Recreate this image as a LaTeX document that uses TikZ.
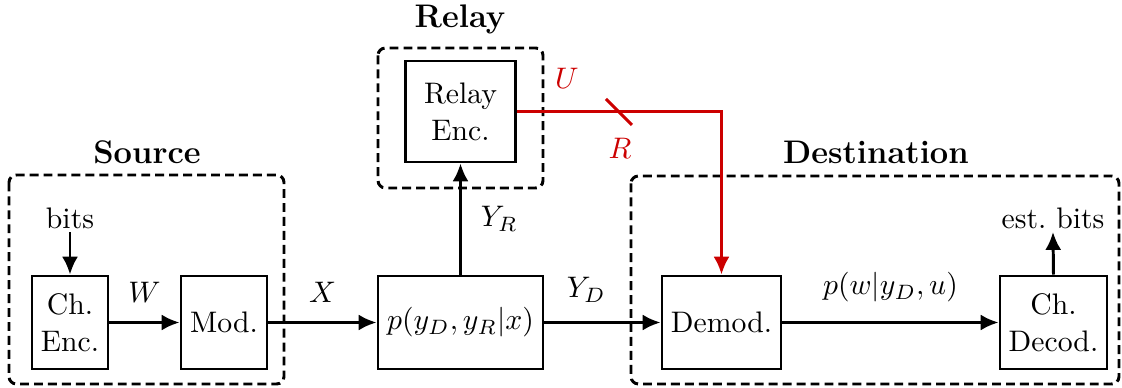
\documentclass[tikz,border=0pt]{standalone}
\usetikzlibrary{arrows.meta}
\definecolor{relayred}{RGB}{204,0,0}
\begin{document}
\begin{tikzpicture}[x=0.3367pt,y=-0.3367pt,
  blk/.style={draw,line width=1pt,inner sep=0pt,align=center,font=\fontsize{10}{12.5}\selectfont},
  grp/.style={draw,line width=1pt,dash pattern=on 3pt off 1.7pt,rounded corners=2.5pt},
  ttl/.style={font=\fontsize{11}{13}\selectfont\bfseries},
  lbl/.style={font=\fontsize{10}{12}\selectfont},
  conn/.style={line width=1pt,-{Latex[length=6pt,width=5.4pt]}},
  rconn/.style={line width=1pt,draw=relayred,-{Latex[length=6pt,width=5.4pt]}}]
\useasboundingbox (0,0) rectangle (1122,388);
% groups
\draw[grp] (9,175) rectangle (284,384);
\draw[grp] (378,48) rectangle (543,188);
\draw[grp] (631,176) rectangle (1119,384);
\node[ttl] (tsrc) at (147,152) {Source};
\node[ttl] (trel) at (460,19) {Relay};
\node[ttl] (tdst) at (876,152) {Destination};
% blocks
\node[blk,minimum width=76*0.3367pt,minimum height=93*0.3367pt] (chenc) at (70,322.5) {Ch.\\Enc.};
\node[blk,minimum width=86*0.3367pt,minimum height=93*0.3367pt] (mod) at (224,322.5) {Mod.};
\node[blk,minimum width=165*0.3367pt,minimum height=93*0.3367pt] (chan) at (460.5,322.5) {$p(y_D,y_R|x)$};
\node[blk,minimum width=110*0.3367pt,minimum height=101*0.3367pt] (relenc) at (460.5,111.5) {Relay\\Enc.};
\node[blk,minimum width=119*0.3367pt,minimum height=93*0.3367pt] (demod) at (721.5,322.5) {Demod.};
\node[blk,minimum width=107*0.3367pt,minimum height=93*0.3367pt] (chdec) at (1053.5,322.5) {Ch.\\Decod.};
\node[lbl,inner sep=1pt] (bits) at (70,218) {bits};
\node[lbl,inner sep=1pt] (ebits) at (1053,218) {est.\ bits};
% connectors
\draw[conn] (bits.south) -- (chenc.north);
\draw[conn] (chdec.north) -- (ebits.south);
\draw[conn] (chenc) -- node[lbl,above=3pt] {$W$} (mod);
\draw[conn] (mod) -- node[lbl,above=3pt] {$X$} (chan);
\draw[conn] (chan) -- node[lbl,above=3pt,pos=0.36] {$Y_D$} (demod);
\draw[conn] (demod) -- node[lbl,above=3pt] {$p(w|y_D,u)$} (chdec);
\draw[conn] (chan.north) -- node[lbl,right=3pt] {$Y_R$} (relenc.south);
% relay link
\draw[rconn] (relenc.east) -| (demod.north);
\coordinate (slash) at (619,112);
\draw[line width=1pt,draw=relayred] (slash) ++(-13,-13) -- ++(26,26);
\node[lbl,text=relayred] (U) at (567,78) {$U$};
\node[lbl,text=relayred] (R) at (620,148) {$R$};
\end{tikzpicture}
\end{document}
